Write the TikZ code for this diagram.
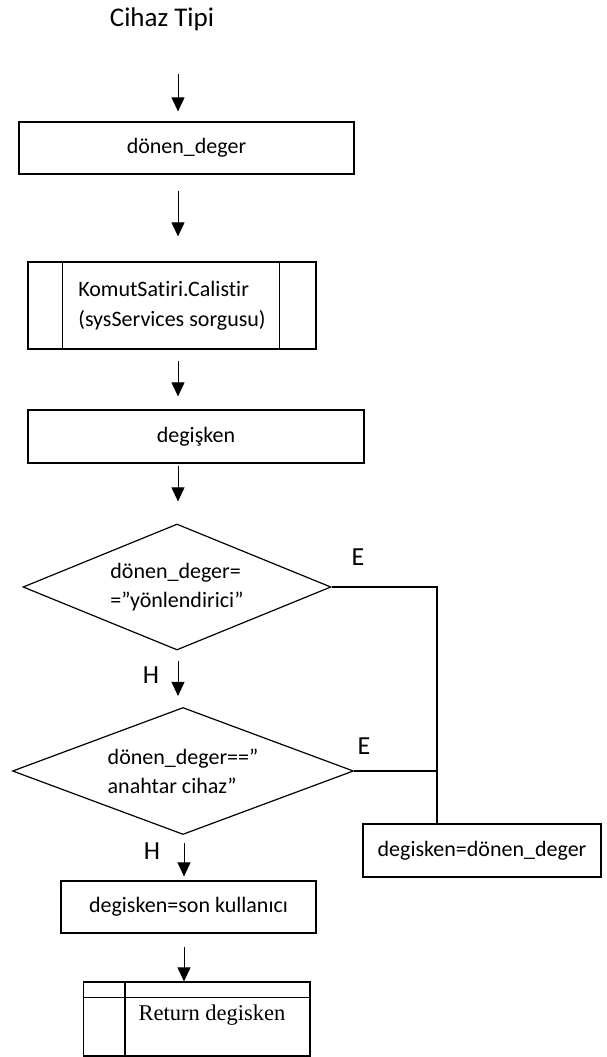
\documentclass[tikz,border=0pt]{standalone}
\usepackage{fontspec}
\setmainfont[Ligatures={TeX,NoCommon}]{Carlito}
\newfontfamily\retfont{Liberation Serif}
\usetikzlibrary{shapes.geometric,arrows.meta}
\begin{document}
\begin{tikzpicture}[x=1pt,y=-1pt,line width=1.2pt]
\tikzstyle{box}=[draw, rectangle, inner sep=0pt, font=\fontsize{22}{30}\selectfont]
\tikzstyle{decision}=[draw, diamond, aspect=2.5, inner sep=0pt, align=left, font=\fontsize{22}{29}\selectfont]
\tikzstyle{arr}=[line width=0.9pt, -{Triangle[width=13pt,length=14pt]}]
\tikzstyle{lbl}=[inner sep=0pt, font=\fontsize{26}{26}\selectfont]
\useasboundingbox (0,0) rectangle (606,1057);

\node[lbl, anchor=base, font=\fontsize{27}{27}\selectfont] (title) at (162,27) {Cihaz Tipi};
\node[box, minimum width=335pt, minimum height=52pt] (donen) at (186.5,148) {dönen\_deger};
\node[box, minimum width=288pt, minimum height=87pt, align=left] (komut) at (172,305.5) {KomutSatiri.Calistir\\(sysServices sorgusu)};
\node[box, minimum width=336pt, minimum height=53pt] (degisken) at (196,436.5) {degişken};
\node[decision, minimum width=308pt, minimum height=126pt] (yon) at (177,587) {dönen\_deger=\\=”yönlendirici”};
\node[decision, minimum width=341pt, minimum height=127pt] (anahtar) at (183,771) {dönen\_deger==”\\anahtar cihaz”};
\node[box, minimum width=238pt, minimum height=53pt] (atama) at (482,850.5) {degisken=dönen\_deger};
\node[box, minimum width=255pt, minimum height=52pt] (son) at (188.5,907) {degisken=son kullanıcı};
\node[box, minimum width=226.5pt, minimum height=74pt] (ret) at (196.75,1019) {};
\node[inner sep=0pt, font=\retfont\fontsize{22.5}{22.5}\selectfont] (rettext) at (212,1015) {Return degisken};

% yes/no labels
\node[lbl] (e1) at (358,557) {E};
\node[lbl] (e2) at (364,746) {E};
\node[lbl] (h1) at (151,675) {H};
\node[lbl] (h2) at (152,851) {H};

% side bars of the subroutine boxes
\draw ([xshift=35pt]komut.north west) -- ([xshift=35pt]komut.south west);
\draw ([xshift=-37pt]komut.north east) -- ([xshift=-37pt]komut.south east);
\draw ([yshift=-16pt]ret.north west) -- ([yshift=-16pt]ret.north east);
\draw ([xshift=42pt]ret.north west) -- ([xshift=42pt]ret.south west);

\coordinate (spine) at (178,0);
\coordinate (spinetwo) at (184,0);
\coordinate (bus) at (437,587);

\draw[arr, shorten <=42pt, shorten >=10pt] (title.south -| spine) -- (donen.north -| spine);
\draw[arr, shorten <=16pt, shorten >=25pt] (donen.south -| spine) -- (komut.north -| spine);
\draw[arr, shorten <=11pt, shorten >=13pt] (komut.south -| spine) -- (degisken.north -| spine);
\draw[arr, shorten <=2pt, shorten >=22pt] (degisken.south -| spine) -- (yon.north -| spine);
\draw[arr, shorten <=10pt, shorten >=11pt] (yon.south -| spine) -- (anahtar.north -| spine);
\draw[arr, shorten <=8pt, shorten >=4pt] (anahtar.south -| spinetwo) -- (son.north -| spinetwo);
\draw[arr, shorten <=13pt] (son.south -| spinetwo) -- (ret.north -| spinetwo);

\draw (yon.east) -- (bus) -- (bus |- atama.north);
\draw (anahtar.east) -- (anahtar.east -| bus);
\end{tikzpicture}
\end{document}
